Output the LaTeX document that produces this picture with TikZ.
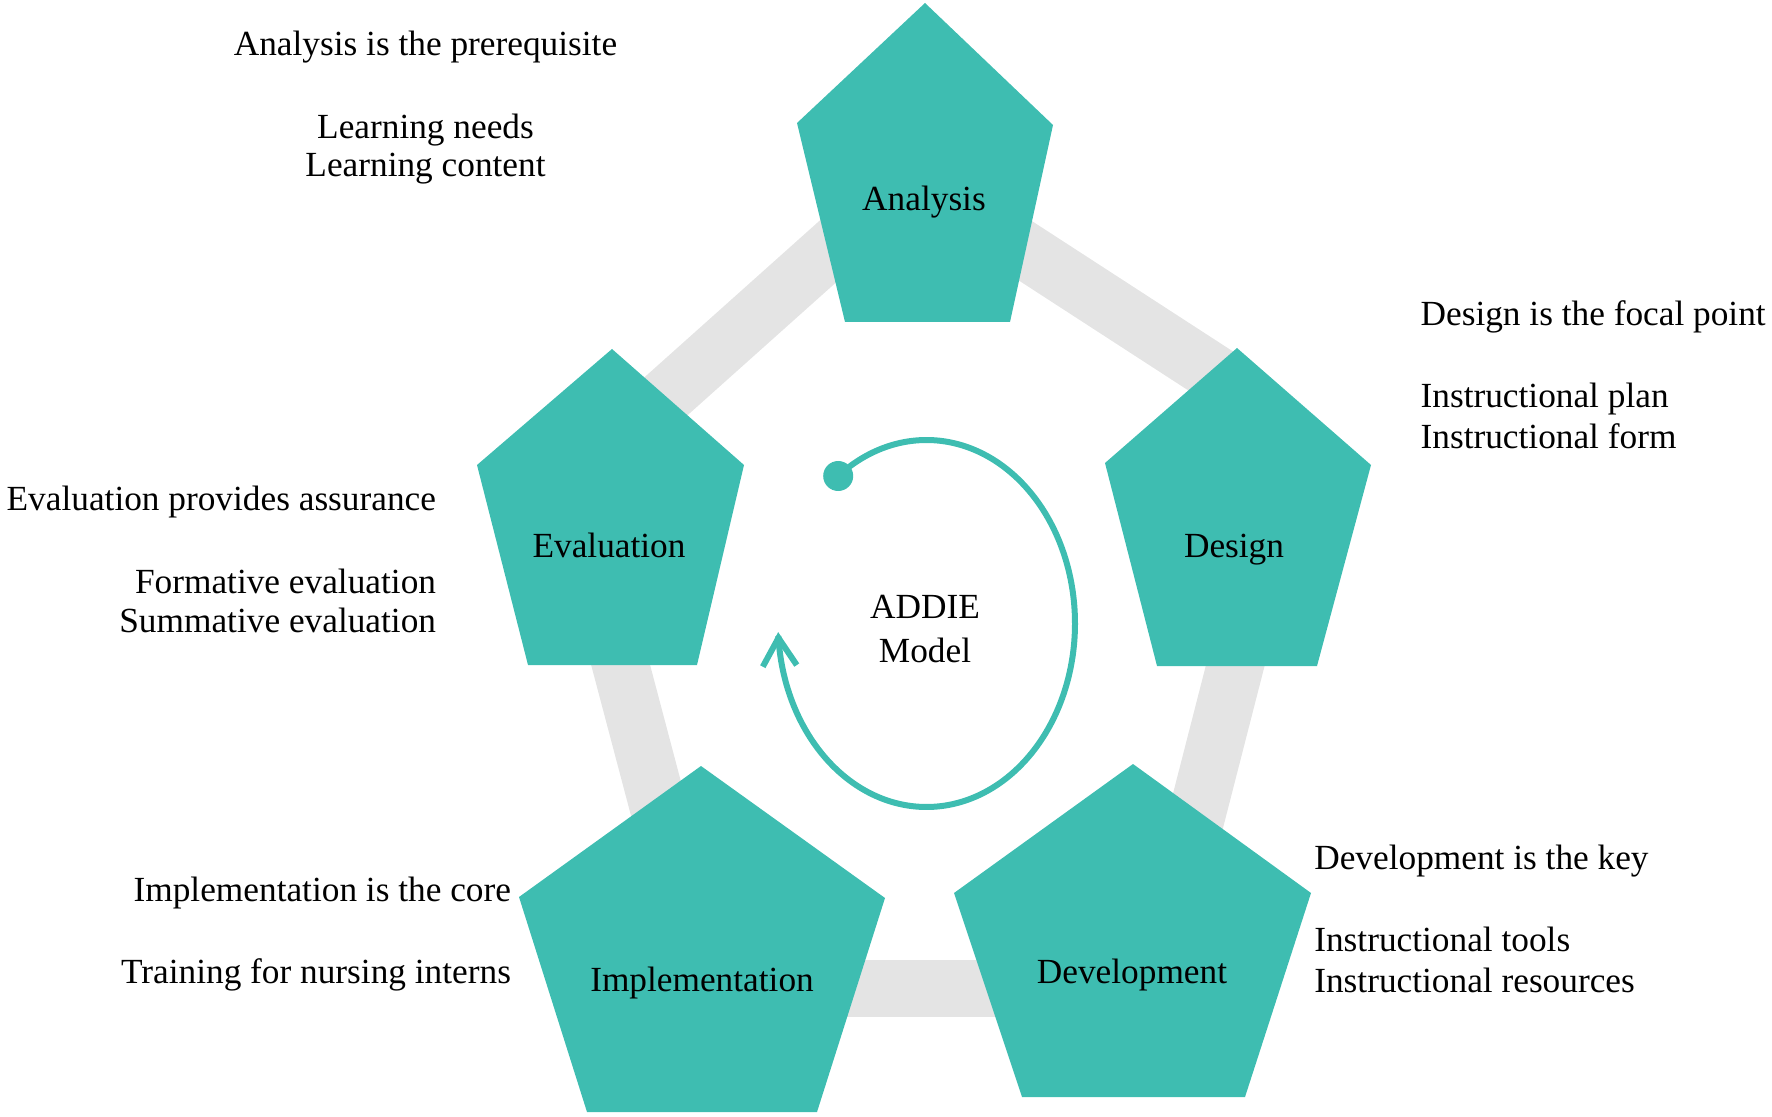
\documentclass[tikz,border=0pt]{standalone}
\usepackage{fontspec}
\setmainfont{Liberation Serif}
\usetikzlibrary{arrows.meta}
\definecolor{tealfill}{HTML}{3EBDB1}
\definecolor{bandgray}{HTML}{E4E4E4}
\begin{document}
\begin{tikzpicture}[x=0.5pt,y=-0.5pt,
  txt/.style={font=\fontsize{17.65}{20}\selectfont, inner sep=0pt, outer sep=0pt, text=black},
  pent/.style={fill=tealfill, draw=none},
  bandseg/.style={draw=bandgray, line width=28.5pt, line cap=butt}]
\useasboundingbox (0,0) rectangle (1772,1117);
% gray ring segments
\coordinate (b1s) at (626,432);   \coordinate (b1e) at (864.7,218.6);
\coordinate (b3s) at (954,204.5); \coordinate (b3e) at (1230.8,384);
\coordinate (b2s) at (606.6,612); \coordinate (b2e) at (673,863);
\coordinate (b4s) at (1249,612);  \coordinate (b4e) at (1184.4,863.8);
\coordinate (b5s) at (780,988);   \coordinate (b5e) at (1060,988);
\draw[bandseg] (b1s) -- (b1e);
\draw[bandseg] (b3s) -- (b3e);
\draw[bandseg] (b2s) -- (b2e);
\draw[bandseg] (b4s) -- (b4e);
\draw[bandseg] (b5s) -- (b5e);
% pentagons
\fill[pent] (925,3) -- (1053,125) -- (1010,322) -- (845,322) -- (797,123) -- cycle;
\fill[pent] (612,349) -- (744,465) -- (697,665) -- (528,665) -- (477,465) -- cycle;
\fill[pent] (1237,348) -- (1371,465) -- (1317,666) -- (1157,666) -- (1105,463) -- cycle;
\fill[pent] (701,766) -- (885,898) -- (817,1112) -- (587,1112) -- (519,897) -- cycle;
\fill[pent] (1133,764) -- (1311,893) -- (1245,1097) -- (1022,1097) -- (954,893) -- cycle;
% pentagon labels
\node[txt, anchor=base] (lA) at (924,211) {Analysis};
\node[txt, anchor=base] (lE) at (609,557) {Evaluation};
\node[txt, anchor=base] (lD) at (1234,557) {Design};
\node[txt, anchor=base] (lI) at (702,991) {Implementation};
\node[txt, anchor=base] (lV) at (1132,983) {Development};
% centre
\node[txt, anchor=base] (c1) at (925,618) {ADDIE};
\node[txt, anchor=base] (c2) at (925,662) {Model};
\node[circle, fill=tealfill, minimum size=15pt, inner sep=0pt] (dot) at (838.2,476) {};
\draw[tealfill, line width=3pt, -{Straight Barb[length=14pt,width=17pt]}]
  (dot.center) -- plot[domain=-126.5:177.3, samples=140, smooth] ({926.5+148.5*cos(\x)},{623.5+183.5*sin(\x)});
% Analysis texts
\node[txt, anchor=base] (ta1) at (425.5,56) {Analysis is the prerequisite};
\node[txt, anchor=base] (ta2) at (425.5,138.3) {Learning needs};
\node[txt, anchor=base] (ta3) at (425.5,176.7) {Learning content};
% Design texts
\node[txt, anchor=base west] (td1) at (1420.6,326) {Design is the focal point};
\node[txt, anchor=base west] (td2) at (1420.6,407.7) {Instructional plan};
\node[txt, anchor=base west] (td3) at (1420.6,448.3) {Instructional form};
% Evaluation texts
\node[txt, anchor=base east] (te1) at (436,510) {Evaluation provides assurance};
\node[txt, anchor=base east] (te2) at (436,593.3) {Formative evaluation};
\node[txt, anchor=base east] (te3) at (436,632.3) {Summative evaluation};
% Implementation texts
\node[txt, anchor=base east] (ti1) at (511,901.5) {Implementation is the core};
\node[txt, anchor=base east] (ti2) at (511,983) {Training for nursing interns};
% Development texts
\node[txt, anchor=base west] (tv1) at (1314.3,869.9) {Development is the key};
\node[txt, anchor=base west] (tv2) at (1314.3,951.2) {Instructional tools};
\node[txt, anchor=base west] (tv3) at (1314.3,992) {Instructional resources};
\end{tikzpicture}
\end{document}
